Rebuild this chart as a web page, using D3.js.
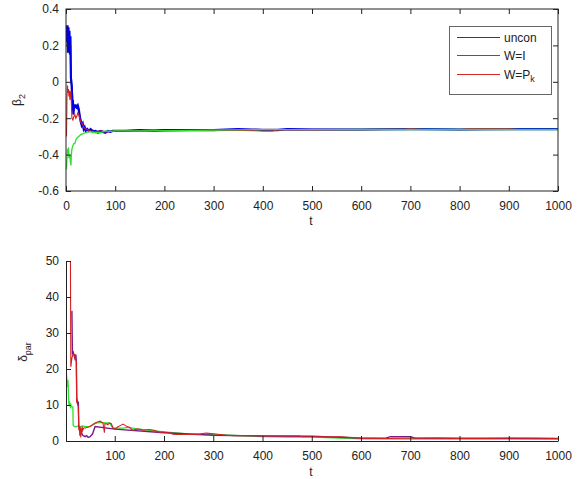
<!DOCTYPE html>
<html><head><meta charset="utf-8">
<script src="https://cdn.jsdelivr.net/npm/d3@7"></script>
<style>
body{margin:0;background:#fff;}
svg{font-family:"Liberation Sans",Arial,sans-serif;}
.tick text{font-size:12px;fill:#222;}
</style></head><body>
<svg id="c" width="584" height="479"></svg>
<script>
// ---------- data: top panel (beta_2) ----------
const topXTicks = [0,100,200,300,400,500,600,700,800,900,1000];
const topYTicks = [0.4,0.2,0,-0.2,-0.4,-0.6];
const botXTicks = [100,200,300,400,500,600,700,800,900,1000];
const botYTicks = [0,10,20,30,40,50];
const legendLabels = ["uncon","W=I","W=P"];

const tBlue = [1,2,3,4,5,6,7,8,9,10,11,12,13,14,15,16,18,20,22,24,26,28,30,32,34,36,38,40,43,46,50,55,60,65,70,75,80,85,90,95,100,120,150,180,200,250,300,350,400,430,450,500,600,700,800,900,1000];
const vBlue = [0.31,0.22,0.31,0.16,0.30,0.18,0.28,0.15,0.25,0.02,0.0,-0.05,-0.16,-0.1,-0.18,-0.15,-0.13,-0.13,-0.14,-0.13,-0.15,-0.19,-0.22,-0.24,-0.23,-0.26,-0.25,-0.27,-0.26,-0.27,-0.26,-0.275,-0.27,-0.28,-0.27,-0.275,-0.28,-0.27,-0.275,-0.27,-0.27,-0.27,-0.265,-0.27,-0.265,-0.265,-0.265,-0.26,-0.265,-0.265,-0.26,-0.262,-0.262,-0.26,-0.262,-0.26,-0.26];
const tNavy = [1,2,3,4,5,6,7,8,9,10,12,14,16,20,25,30,35,40,50,60,80,100,200,300,400,500,600,700,800,900,1000];
const vNavy = [0.29,0.25,0.2,0.28,0.2,0.26,0.2,0.22,0.2,0.0,-0.02,-0.12,-0.14,-0.14,-0.15,-0.21,-0.24,-0.26,-0.265,-0.27,-0.275,-0.27,-0.265,-0.265,-0.262,-0.262,-0.262,-0.26,-0.262,-0.26,-0.26];
const tRed = [1,2,3,4,5,6,7,8,9,10,11,12,14,16,18,20,22,24,26,28,30,33,36,40,45,50,60,70,80,100,150,200,300,400,420,430,500,600,690,700,730,800,820,900,920,1000];
const vRed = [-0.3,-0.08,-0.02,-0.06,-0.04,-0.08,-0.05,-0.1,-0.06,-0.05,-0.12,-0.2,-0.21,-0.19,-0.18,-0.2,-0.19,-0.17,-0.18,-0.2,-0.22,-0.23,-0.25,-0.26,-0.265,-0.27,-0.275,-0.27,-0.275,-0.27,-0.27,-0.27,-0.265,-0.27,-0.27,-0.265,-0.265,-0.263,-0.26,-0.258,-0.262,-0.262,-0.258,-0.258,-0.262,-0.262];
const tGreen = [1,2,3,4,5,6,7,8,9,10,11,12,14,16,18,20,22,24,26,28,30,35,40,45,50,60,70,80,90,100,150,200,300,400,500,600,700,800,900,1000];
const vGreen = [-0.48,-0.42,-0.37,-0.4,-0.36,-0.42,-0.4,-0.41,-0.44,-0.46,-0.4,-0.37,-0.35,-0.34,-0.34,-0.32,-0.31,-0.305,-0.3,-0.295,-0.29,-0.285,-0.28,-0.275,-0.275,-0.28,-0.28,-0.27,-0.272,-0.27,-0.27,-0.268,-0.265,-0.263,-0.263,-0.262,-0.262,-0.262,-0.262,-0.262];

// ---------- data: bottom panel (delta_par) ----------
const tRed2 = [10,10.4,10.8,13,15,17,19,20,21,22,22.5,25,26,27,28,29,30,31,32,33,34,35,37,40,45,50,55,60,65,70,76,79,80,83,86,89,93,96,100,105,110,117,125,130,136,145,150,157,170,180,191,200,211,218,225,250,272,286,300,327,340,347,380,408,450,475,480,520,560,600,650,700,750,800,850,900,950,1000];
const vRed2 = [52,36,20.6,23,24,24,24,22.5,22.5,22.5,11,10,9.5,3,4,1.5,4,1,3.5,2,4,3,3.6,3.6,3.8,4,4.5,5,5.3,5.5,5,2.3,4.8,4.8,4.5,5,4.8,3.8,3.3,3.8,4.2,4.7,4,3.8,3,3.3,3.3,3,3.2,3,2.4,2.5,2.3,1.9,1.8,1.8,1.9,2.2,2,1.6,1.5,1.5,1.5,1.4,1.4,1.4,1.2,1.2,1.2,0.8,0.7,0.75,0.8,0.7,0.7,0.75,0.75,0.7];
const tPurple = [12,13,14,15,17,19,21,22,23,25,26,27,30,33,36,40,43,46,50,55,60,100,200,300,400,500,600,650,660,700,710,800,900,1000];
const vPurple = [36,36,24,25,24,23,24,22,12,10,11,4,3,2,1.5,1.2,1.5,1,1.2,2,4,3.3,2.3,1.6,1.4,1.3,0.8,0.8,1.2,1.2,0.8,0.75,0.75,0.7];
const tGreen2 = [1,1.5,4,5,6,7,8,9,10,11,12,13,15,15.5,18,22,26,30,35,40,48,55,60,65,70,80,89,96,100,110,117,125,150,200,250,300,400,450,500,600,700,800,900,1000];
const vGreen2 = [52,19,15,17,13,10,11,10,9.5,10,9.5,9.5,9.5,4.4,4,4,4.2,4,4.2,4,4,4.5,4.8,5,5.2,5,5,3.6,3.6,3.6,3.6,3.8,3.3,2.5,2,1.8,1.2,1.1,1.1,0.6,0.5,0.5,0.5,0.5];

// ---------- drawing ----------
const svg = d3.select("#c");
const L = 66, R = 558;
const fmtInt = d3.format("d");

function zip(t, v){ return t.map((d,i)=>[d, v[i]]); }

// Top panel
const T1 = 9, B1 = 191;
const x1 = d3.scaleLinear().domain([0,1000]).range([L,R]);
const y1 = d3.scaleLinear().domain([-0.6,0.4]).range([B1,T1]);
const g1 = svg.append("g");
svg.append("clipPath").attr("id","cp1").append("rect").attr("x",L).attr("y",T1).attr("width",R-L).attr("height",B1-T1);
const line1 = d3.line().x(d=>x1(d[0])).y(d=>y1(d[1]));
const p1 = g1.append("g").attr("clip-path","url(#cp1)");
p1.append("path").datum(zip(tNavy,vNavy)).attr("d",line1).attr("fill","none").attr("stroke","#1e1e90").attr("stroke-width",1.5);
p1.append("path").datum(zip(tBlue,vBlue)).attr("d",line1).attr("fill","none").attr("stroke","#0000e0").attr("stroke-width",2.2);
p1.append("path").datum(zip(tRed,vRed)).attr("d",line1).attr("fill","none").attr("stroke","#d42020").attr("stroke-width",1.1);
p1.append("path").datum(zip(tGreen,vGreen)).attr("d",line1).attr("fill","none").attr("stroke","#2ee02e").attr("stroke-width",1.3);

g1.append("rect").attr("x",L).attr("y",T1).attr("width",R-L).attr("height",B1-T1).attr("fill","none").attr("stroke","#222").attr("stroke-width",1);
const ax1b = g1.append("g").attr("transform",`translate(0,${B1})`).call(d3.axisBottom(x1).tickValues(topXTicks).tickSizeInner(-5).tickSizeOuter(0).tickPadding(10).tickFormat(fmtInt));
const ax1t = g1.append("g").attr("transform",`translate(0,${T1})`).call(d3.axisTop(x1).tickValues(topXTicks).tickSizeInner(-5).tickSizeOuter(0).tickFormat(""));
const ax1l = g1.append("g").attr("transform",`translate(${L},0)`).call(d3.axisLeft(y1).tickValues(topYTicks).tickSizeInner(-5).tickSizeOuter(0).tickPadding(7).tickFormat(d=>String(Math.round(d*10)/10)));
const ax1r = g1.append("g").attr("transform",`translate(${R},0)`).call(d3.axisRight(y1).tickValues(topYTicks).tickSizeInner(-5).tickSizeOuter(0).tickFormat(""));
[ax1b,ax1t,ax1l,ax1r].forEach(a=>{a.select(".domain").remove(); a.selectAll(".tick line").attr("stroke","#222");});

svg.append("text").attr("x",311).attr("y",225).attr("text-anchor","middle").attr("font-size",12).attr("fill","#222").text("t");
const yl1 = svg.append("text").attr("transform","translate(21,100) rotate(-90)").attr("text-anchor","middle").attr("font-size",12).attr("fill","#222");
yl1.append("tspan").text("β");
yl1.append("tspan").attr("font-size",9).attr("dy",4).text("2");

// legend
const lg = svg.append("g");
lg.append("rect").attr("x",449.5).attr("y",26.5).attr("width",102).attr("height",68).attr("fill","#fff").attr("stroke","#666");
const lgColors = ["#3030a8","#4848d8","#d02828"];
const lgY = [37.5,55.5,74.5];
legendLabels.forEach((s,i)=>{
  lg.append("line").attr("x1",457).attr("x2",500).attr("y1",lgY[i]).attr("y2",lgY[i]).attr("stroke",lgColors[i]).attr("stroke-width",1.2);
  const t = lg.append("text").attr("x",504).attr("y",lgY[i]+4).attr("font-size",12).attr("fill","#222").text(s);
  if(i===2) t.append("tspan").attr("font-size",9).attr("dy",3).text("k");
});

// Bottom panel
const T2 = 261, B2 = 441;
const x2 = d3.scaleLinear().domain([1,1000]).range([L,R]);
const y2 = d3.scaleLinear().domain([0,50]).range([B2,T2]);
svg.append("clipPath").attr("id","cp2").append("rect").attr("x",L).attr("y",T2).attr("width",R-L).attr("height",B2-T2);
const line2 = d3.line().x(d=>x2(d[0])).y(d=>y2(d[1]));
const p2 = svg.append("g").attr("clip-path","url(#cp2)");
p2.append("path").datum(zip(tGreen2,vGreen2)).attr("d",line2).attr("fill","none").attr("stroke","#2ee02e").attr("stroke-width",1.3);
p2.append("path").datum(zip(tPurple,vPurple)).attr("d",line2).attr("fill","none").attr("stroke","#7a1a8a").attr("stroke-width",1.4);
p2.append("path").datum(zip(tRed2,vRed2)).attr("d",line2).attr("fill","none").attr("stroke","#d42020").attr("stroke-width",1.1);

const g2 = svg.append("g");
const ax2b = g2.append("g").attr("transform",`translate(0,${B2})`).call(d3.axisBottom(x2).tickValues(botXTicks).tickSizeInner(-5).tickSizeOuter(0).tickPadding(10).tickFormat(fmtInt));
const ax2l = g2.append("g").attr("transform",`translate(${L},0)`).call(d3.axisLeft(y2).tickValues(botYTicks).tickSizeInner(-5).tickSizeOuter(0).tickPadding(7));
[ax2b,ax2l].forEach(a=>{a.select(".domain").attr("stroke","#222"); a.selectAll(".tick line").attr("stroke","#222");});
svg.append("text").attr("x",311).attr("y",476).attr("text-anchor","middle").attr("font-size",12).attr("fill","#222").text("t");
const yl2 = svg.append("text").attr("transform","translate(27,352) rotate(-90)").attr("text-anchor","middle").attr("font-size",12).attr("fill","#222");
yl2.append("tspan").text("δ");
yl2.append("tspan").attr("font-size",9).attr("dy",4).text("par");
</script>
</body></html>
